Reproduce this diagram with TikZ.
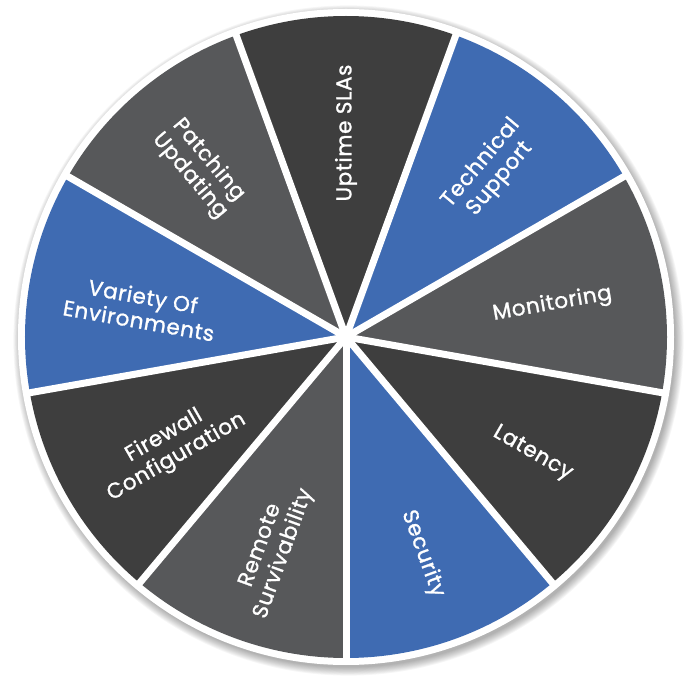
\documentclass[tikz,border=0pt]{standalone}
\usepackage{fontspec}
\setmainfont{Poppins}
\newfontfamily\labfont[FakeBold=1.2,LetterSpace=3]{Poppins}
\definecolor{slicedark}{RGB}{62,62,62}
\definecolor{slicegray}{RGB}{87,88,90}
\definecolor{sliceblue}{RGB}{63,107,178}
\begin{document}
\begin{tikzpicture}[x=1pt,y=1pt,
  lab/.style={text=white,align=center,font=\labfont\fontsize{21.5}{24.5}\selectfont,inner sep=0pt},
  gap/.style={white,line width=7pt}]
\useasboundingbox (0,0) rectangle (689,-676);
\coordinate (C) at (346,-337);
% shadow
\foreach \i in {0,...,9}{
  \fill[black,opacity=0.035] ([shift={(2.5,-3.5)}]C) circle[radius=327+\i*0.9];
}
\fill[white] (C) circle[radius=328];
% slices
\foreach \a/\c in {-10/slicegray,30/sliceblue,70/slicedark,110/slicegray,150/sliceblue,190/slicedark,230/slicegray,270/sliceblue,310/slicedark}{
  \fill[\c] (C) -- ++(\a:321) arc[start angle=\a,end angle=\a+40,radius=321] -- cycle;
}
% gaps
\foreach \a in {-10,30,70,110,150,190,230,270,310}{
  \draw[gap] (C) -- ++(\a:324);
}
\fill[white] (C) circle[radius=5];
% labels
\node[lab,rotate=90]  (uptime)   at ([shift={(90:204)}]C)  {Uptime SLAs};
\node[lab,rotate=50]  (techsup)  at ([shift={(49:220)}]C)  {Technical\\Support};
\node[lab,rotate=10]  (monitor)  at ([shift={(9:209)}]C)   {Monitoring};
\node[lab,rotate=-30] (latency)  at ([shift={(-32:220)}]C) {Latency};
\node[lab,rotate=-70] (security) at ([shift={(-70.5:230)}]C) {Security};
\node[lab,rotate=70]  (remote)   at ([shift={(-109:225)}]C) {Remote\\Survivability};
\node[lab,rotate=30]  (firewall) at ([shift={(-148:207)}]C) {Firewall\\Configuration};
\node[lab,rotate=-10] (variety)  at ([shift={(172:207)}]C) {Variety Of\\Environments};
\node[lab,rotate=-50] (patching) at ([shift={(131:224)}]C) {Patching\\Updating};
\end{tikzpicture}
\end{document}
